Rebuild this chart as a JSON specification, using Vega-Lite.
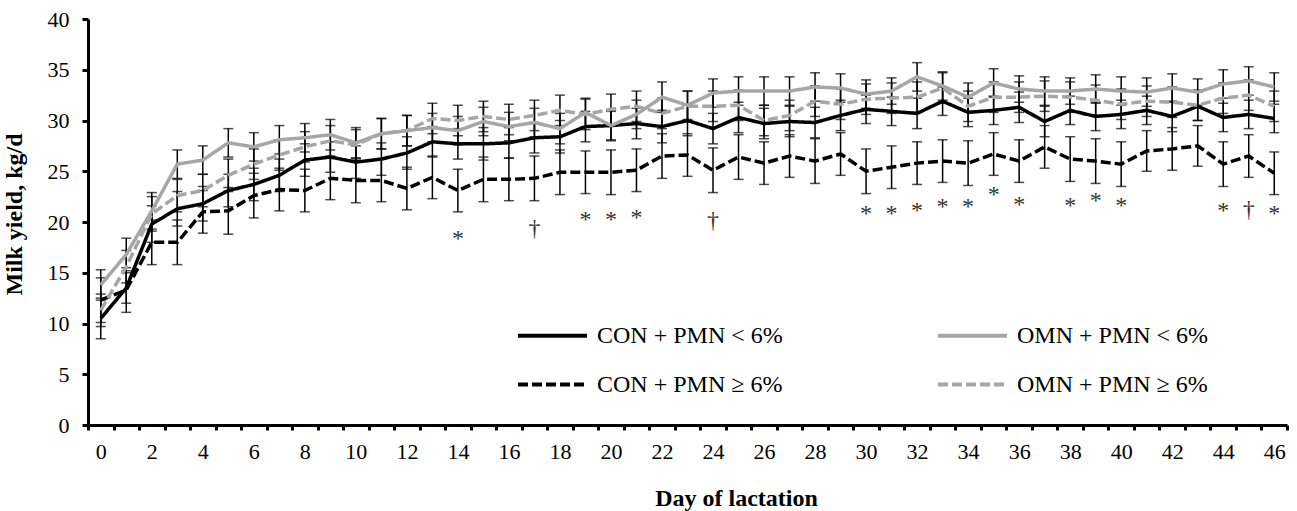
{
  "$schema": "https://vega.github.io/schema/vega-lite/v6.json",
  "width": 1199,
  "height": 406,
  "autosize": {"type": "none"},
  "padding": {"left": 88, "top": 19, "right": 10, "bottom": 86},
  "background": "white",
  "config": {
    "font": "Liberation Serif",
    "view": {"stroke": null},
    "axis": {"grid": false, "labelColor": "black", "titleColor": "black", "domainColor": "black", "tickColor": "black", "labelFont": "Liberation Serif", "titleFont": "Liberation Serif"}
  },
  "resolve": {"axis": {"x": "independent"}},
  "datasets": {
    "milk": [
      {"d":0,"s":"CON + PMN < 6%","y":10.5,"e":2.0},{"d":1,"s":"CON + PMN < 6%","y":13.5,"e":1.5},{"d":2,"s":"CON + PMN < 6%","y":19.8,"e":1.8},{"d":3,"s":"CON + PMN < 6%","y":21.3,"e":1.7},{"d":4,"s":"CON + PMN < 6%","y":21.8,"e":1.7},{"d":5,"s":"CON + PMN < 6%","y":23.1,"e":1.6},{"d":6,"s":"CON + PMN < 6%","y":23.7,"e":1.6},{"d":7,"s":"CON + PMN < 6%","y":24.6,"e":1.6},{"d":8,"s":"CON + PMN < 6%","y":26.1,"e":1.6},{"d":9,"s":"CON + PMN < 6%","y":26.4,"e":1.5},{"d":10,"s":"CON + PMN < 6%","y":25.9,"e":1.6},{"d":11,"s":"CON + PMN < 6%","y":26.2,"e":1.6},{"d":12,"s":"CON + PMN < 6%","y":26.8,"e":1.6},{"d":13,"s":"CON + PMN < 6%","y":27.9,"e":1.5},{"d":14,"s":"CON + PMN < 6%","y":27.7,"e":1.5},{"d":15,"s":"CON + PMN < 6%","y":27.7,"e":1.6},{"d":16,"s":"CON + PMN < 6%","y":27.8,"e":1.5},{"d":17,"s":"CON + PMN < 6%","y":28.3,"e":1.5},{"d":18,"s":"CON + PMN < 6%","y":28.4,"e":1.6},{"d":19,"s":"CON + PMN < 6%","y":29.4,"e":1.5},{"d":20,"s":"CON + PMN < 6%","y":29.5,"e":1.5},{"d":21,"s":"CON + PMN < 6%","y":29.7,"e":1.5},{"d":22,"s":"CON + PMN < 6%","y":29.4,"e":1.6},{"d":23,"s":"CON + PMN < 6%","y":30.0,"e":1.5},{"d":24,"s":"CON + PMN < 6%","y":29.2,"e":1.5},{"d":25,"s":"CON + PMN < 6%","y":30.3,"e":1.5},{"d":26,"s":"CON + PMN < 6%","y":29.7,"e":1.5},{"d":27,"s":"CON + PMN < 6%","y":29.9,"e":1.5},{"d":28,"s":"CON + PMN < 6%","y":29.8,"e":1.5},{"d":29,"s":"CON + PMN < 6%","y":30.5,"e":1.5},{"d":30,"s":"CON + PMN < 6%","y":31.1,"e":1.4},{"d":31,"s":"CON + PMN < 6%","y":30.9,"e":1.4},{"d":32,"s":"CON + PMN < 6%","y":30.7,"e":1.5},{"d":33,"s":"CON + PMN < 6%","y":31.9,"e":1.4},{"d":34,"s":"CON + PMN < 6%","y":30.8,"e":1.4},{"d":35,"s":"CON + PMN < 6%","y":31.0,"e":1.4},{"d":36,"s":"CON + PMN < 6%","y":31.3,"e":1.5},{"d":37,"s":"CON + PMN < 6%","y":29.9,"e":1.5},{"d":38,"s":"CON + PMN < 6%","y":31.0,"e":1.4},{"d":39,"s":"CON + PMN < 6%","y":30.4,"e":1.4},{"d":40,"s":"CON + PMN < 6%","y":30.6,"e":1.4},{"d":41,"s":"CON + PMN < 6%","y":31.0,"e":1.4},{"d":42,"s":"CON + PMN < 6%","y":30.4,"e":1.5},{"d":43,"s":"CON + PMN < 6%","y":31.4,"e":1.4},{"d":44,"s":"CON + PMN < 6%","y":30.3,"e":1.4},{"d":45,"s":"CON + PMN < 6%","y":30.6,"e":1.4},{"d":46,"s":"CON + PMN < 6%","y":30.2,"e":1.4},
      {"d":0,"s":"OMN + PMN < 6%","y":13.8,"e":1.5},{"d":1,"s":"OMN + PMN < 6%","y":16.8,"e":1.6},{"d":2,"s":"OMN + PMN < 6%","y":21.1,"e":1.8},{"d":3,"s":"OMN + PMN < 6%","y":25.7,"e":1.4},{"d":4,"s":"OMN + PMN < 6%","y":26.1,"e":1.4},{"d":5,"s":"OMN + PMN < 6%","y":27.8,"e":1.4},{"d":6,"s":"OMN + PMN < 6%","y":27.4,"e":1.4},{"d":7,"s":"OMN + PMN < 6%","y":28.1,"e":1.4},{"d":8,"s":"OMN + PMN < 6%","y":28.3,"e":1.4},{"d":9,"s":"OMN + PMN < 6%","y":28.6,"e":1.5},{"d":10,"s":"OMN + PMN < 6%","y":27.8,"e":1.5},{"d":11,"s":"OMN + PMN < 6%","y":28.7,"e":1.5},{"d":12,"s":"OMN + PMN < 6%","y":29.0,"e":1.5},{"d":13,"s":"OMN + PMN < 6%","y":29.3,"e":1.4},{"d":14,"s":"OMN + PMN < 6%","y":29.0,"e":1.4},{"d":15,"s":"OMN + PMN < 6%","y":29.9,"e":1.4},{"d":16,"s":"OMN + PMN < 6%","y":29.4,"e":1.4},{"d":17,"s":"OMN + PMN < 6%","y":29.8,"e":1.4},{"d":18,"s":"OMN + PMN < 6%","y":29.2,"e":1.5},{"d":19,"s":"OMN + PMN < 6%","y":30.8,"e":1.4},{"d":20,"s":"OMN + PMN < 6%","y":29.5,"e":1.4},{"d":21,"s":"OMN + PMN < 6%","y":30.6,"e":1.4},{"d":22,"s":"OMN + PMN < 6%","y":32.3,"e":1.5},{"d":23,"s":"OMN + PMN < 6%","y":31.5,"e":1.4},{"d":24,"s":"OMN + PMN < 6%","y":32.7,"e":1.4},{"d":25,"s":"OMN + PMN < 6%","y":32.9,"e":1.4},{"d":26,"s":"OMN + PMN < 6%","y":32.9,"e":1.4},{"d":27,"s":"OMN + PMN < 6%","y":32.9,"e":1.4},{"d":28,"s":"OMN + PMN < 6%","y":33.3,"e":1.4},{"d":29,"s":"OMN + PMN < 6%","y":33.2,"e":1.4},{"d":30,"s":"OMN + PMN < 6%","y":32.6,"e":1.4},{"d":31,"s":"OMN + PMN < 6%","y":32.9,"e":1.3},{"d":32,"s":"OMN + PMN < 6%","y":34.3,"e":1.4},{"d":33,"s":"OMN + PMN < 6%","y":33.4,"e":1.4},{"d":34,"s":"OMN + PMN < 6%","y":32.3,"e":1.4},{"d":35,"s":"OMN + PMN < 6%","y":33.7,"e":1.4},{"d":36,"s":"OMN + PMN < 6%","y":33.1,"e":1.3},{"d":37,"s":"OMN + PMN < 6%","y":32.9,"e":1.4},{"d":38,"s":"OMN + PMN < 6%","y":32.9,"e":1.3},{"d":39,"s":"OMN + PMN < 6%","y":33.1,"e":1.4},{"d":40,"s":"OMN + PMN < 6%","y":32.9,"e":1.4},{"d":41,"s":"OMN + PMN < 6%","y":32.8,"e":1.4},{"d":42,"s":"OMN + PMN < 6%","y":33.2,"e":1.4},{"d":43,"s":"OMN + PMN < 6%","y":32.8,"e":1.3},{"d":44,"s":"OMN + PMN < 6%","y":33.6,"e":1.4},{"d":45,"s":"OMN + PMN < 6%","y":33.9,"e":1.4},{"d":46,"s":"OMN + PMN < 6%","y":33.3,"e":1.4},
      {"d":0,"s":"CON + PMN ≥ 6%","y":12.3,"e":2.2},{"d":1,"s":"CON + PMN ≥ 6%","y":13.3,"e":2.2},{"d":2,"s":"CON + PMN ≥ 6%","y":18.0,"e":2.2},{"d":3,"s":"CON + PMN ≥ 6%","y":18.0,"e":2.2},{"d":4,"s":"CON + PMN ≥ 6%","y":21.0,"e":2.1},{"d":5,"s":"CON + PMN ≥ 6%","y":21.1,"e":2.3},{"d":6,"s":"CON + PMN ≥ 6%","y":22.6,"e":2.2},{"d":7,"s":"CON + PMN ≥ 6%","y":23.2,"e":2.1},{"d":8,"s":"CON + PMN ≥ 6%","y":23.1,"e":2.1},{"d":9,"s":"CON + PMN ≥ 6%","y":24.3,"e":2.1},{"d":10,"s":"CON + PMN ≥ 6%","y":24.1,"e":2.2},{"d":11,"s":"CON + PMN ≥ 6%","y":24.1,"e":2.1},{"d":12,"s":"CON + PMN ≥ 6%","y":23.3,"e":2.1},{"d":13,"s":"CON + PMN ≥ 6%","y":24.4,"e":2.1},{"d":14,"s":"CON + PMN ≥ 6%","y":23.1,"e":2.1},{"d":15,"s":"CON + PMN ≥ 6%","y":24.2,"e":2.2},{"d":16,"s":"CON + PMN ≥ 6%","y":24.2,"e":2.1},{"d":17,"s":"CON + PMN ≥ 6%","y":24.3,"e":2.2},{"d":18,"s":"CON + PMN ≥ 6%","y":24.9,"e":2.2},{"d":19,"s":"CON + PMN ≥ 6%","y":24.9,"e":2.1},{"d":20,"s":"CON + PMN ≥ 6%","y":24.9,"e":2.2},{"d":21,"s":"CON + PMN ≥ 6%","y":25.1,"e":2.1},{"d":22,"s":"CON + PMN ≥ 6%","y":26.5,"e":2.2},{"d":23,"s":"CON + PMN ≥ 6%","y":26.6,"e":2.1},{"d":24,"s":"CON + PMN ≥ 6%","y":25.1,"e":2.2},{"d":25,"s":"CON + PMN ≥ 6%","y":26.4,"e":2.2},{"d":26,"s":"CON + PMN ≥ 6%","y":25.8,"e":2.1},{"d":27,"s":"CON + PMN ≥ 6%","y":26.5,"e":2.1},{"d":28,"s":"CON + PMN ≥ 6%","y":26.0,"e":2.2},{"d":29,"s":"CON + PMN ≥ 6%","y":26.7,"e":2.1},{"d":30,"s":"CON + PMN ≥ 6%","y":25.0,"e":2.2},{"d":31,"s":"CON + PMN ≥ 6%","y":25.4,"e":2.1},{"d":32,"s":"CON + PMN ≥ 6%","y":25.8,"e":2.1},{"d":33,"s":"CON + PMN ≥ 6%","y":26.0,"e":2.1},{"d":34,"s":"CON + PMN ≥ 6%","y":25.8,"e":2.2},{"d":35,"s":"CON + PMN ≥ 6%","y":26.7,"e":2.1},{"d":36,"s":"CON + PMN ≥ 6%","y":26.0,"e":2.1},{"d":37,"s":"CON + PMN ≥ 6%","y":27.4,"e":2.1},{"d":38,"s":"CON + PMN ≥ 6%","y":26.2,"e":2.2},{"d":39,"s":"CON + PMN ≥ 6%","y":26.0,"e":2.2},{"d":40,"s":"CON + PMN ≥ 6%","y":25.7,"e":2.2},{"d":41,"s":"CON + PMN ≥ 6%","y":27.0,"e":2.0},{"d":42,"s":"CON + PMN ≥ 6%","y":27.2,"e":2.1},{"d":43,"s":"CON + PMN ≥ 6%","y":27.5,"e":2.0},{"d":44,"s":"CON + PMN ≥ 6%","y":25.7,"e":2.2},{"d":45,"s":"CON + PMN ≥ 6%","y":26.5,"e":2.1},{"d":46,"s":"CON + PMN ≥ 6%","y":24.8,"e":2.1},
      {"d":0,"s":"OMN + PMN ≥ 6%","y":11.3,"e":1.6},{"d":1,"s":"OMN + PMN ≥ 6%","y":15.6,"e":1.6},{"d":2,"s":"OMN + PMN ≥ 6%","y":20.8,"e":1.7},{"d":3,"s":"OMN + PMN ≥ 6%","y":22.6,"e":1.6},{"d":4,"s":"OMN + PMN ≥ 6%","y":23.1,"e":1.6},{"d":5,"s":"OMN + PMN ≥ 6%","y":24.6,"e":1.6},{"d":6,"s":"OMN + PMN ≥ 6%","y":25.7,"e":1.5},{"d":7,"s":"OMN + PMN ≥ 6%","y":26.6,"e":1.5},{"d":8,"s":"OMN + PMN ≥ 6%","y":27.4,"e":1.5},{"d":9,"s":"OMN + PMN ≥ 6%","y":28.0,"e":1.5},{"d":10,"s":"OMN + PMN ≥ 6%","y":27.6,"e":1.5},{"d":11,"s":"OMN + PMN ≥ 6%","y":28.7,"e":1.5},{"d":12,"s":"OMN + PMN ≥ 6%","y":29.0,"e":1.5},{"d":13,"s":"OMN + PMN ≥ 6%","y":30.2,"e":1.5},{"d":14,"s":"OMN + PMN ≥ 6%","y":30.0,"e":1.5},{"d":15,"s":"OMN + PMN ≥ 6%","y":30.4,"e":1.5},{"d":16,"s":"OMN + PMN ≥ 6%","y":30.1,"e":1.5},{"d":17,"s":"OMN + PMN ≥ 6%","y":30.5,"e":1.5},{"d":18,"s":"OMN + PMN ≥ 6%","y":31.0,"e":1.5},{"d":19,"s":"OMN + PMN ≥ 6%","y":30.6,"e":1.5},{"d":20,"s":"OMN + PMN ≥ 6%","y":31.1,"e":1.5},{"d":21,"s":"OMN + PMN ≥ 6%","y":31.4,"e":1.5},{"d":22,"s":"OMN + PMN ≥ 6%","y":30.7,"e":1.5},{"d":23,"s":"OMN + PMN ≥ 6%","y":31.4,"e":1.5},{"d":24,"s":"OMN + PMN ≥ 6%","y":31.4,"e":1.5},{"d":25,"s":"OMN + PMN ≥ 6%","y":31.5,"e":1.5},{"d":26,"s":"OMN + PMN ≥ 6%","y":30.0,"e":1.5},{"d":27,"s":"OMN + PMN ≥ 6%","y":30.5,"e":1.5},{"d":28,"s":"OMN + PMN ≥ 6%","y":31.9,"e":1.5},{"d":29,"s":"OMN + PMN ≥ 6%","y":31.6,"e":1.5},{"d":30,"s":"OMN + PMN ≥ 6%","y":32.1,"e":1.5},{"d":31,"s":"OMN + PMN ≥ 6%","y":32.2,"e":1.5},{"d":32,"s":"OMN + PMN ≥ 6%","y":32.3,"e":1.5},{"d":33,"s":"OMN + PMN ≥ 6%","y":33.2,"e":1.5},{"d":34,"s":"OMN + PMN ≥ 6%","y":31.4,"e":1.5},{"d":35,"s":"OMN + PMN ≥ 6%","y":32.3,"e":1.5},{"d":36,"s":"OMN + PMN ≥ 6%","y":32.3,"e":1.5},{"d":37,"s":"OMN + PMN ≥ 6%","y":32.4,"e":1.5},{"d":38,"s":"OMN + PMN ≥ 6%","y":32.3,"e":1.5},{"d":39,"s":"OMN + PMN ≥ 6%","y":32.0,"e":1.5},{"d":40,"s":"OMN + PMN ≥ 6%","y":31.6,"e":1.5},{"d":41,"s":"OMN + PMN ≥ 6%","y":31.9,"e":1.5},{"d":42,"s":"OMN + PMN ≥ 6%","y":31.8,"e":1.5},{"d":43,"s":"OMN + PMN ≥ 6%","y":31.5,"e":1.5},{"d":44,"s":"OMN + PMN ≥ 6%","y":32.2,"e":1.5},{"d":45,"s":"OMN + PMN ≥ 6%","y":32.5,"e":1.5},{"d":46,"s":"OMN + PMN ≥ 6%","y":31.4,"e":1.5}
    ],
    "sig": [
      {"d":14,"m":"*","y":18.3},{"d":17,"m":"†","y":19.3},{"d":19,"m":"*","y":20.2},{"d":20,"m":"*","y":20.2},{"d":21,"m":"*","y":20.4},{"d":24,"m":"†","y":20.1},{"d":30,"m":"*","y":20.8},{"d":31,"m":"*","y":20.8},{"d":32,"m":"*","y":21.1},{"d":33,"m":"*","y":21.5},{"d":34,"m":"*","y":21.5},{"d":35,"m":"*","y":22.7},{"d":36,"m":"*","y":21.7},{"d":38,"m":"*","y":21.6},{"d":39,"m":"*","y":22.1},{"d":40,"m":"*","y":21.6},{"d":44,"m":"*","y":21.1},{"d":45,"m":"†","y":21.2},{"d":46,"m":"*","y":20.8}
    ]
  },
  "layer": [
    {
      "data": {"name": "milk"},
      "mark": {"type": "errorbar", "color": "black", "ticks": {"size": 10, "thickness": 1.5, "color": "black"}, "rule": {"strokeWidth": 1.5, "color": "black"}},
      "encoding": {
        "x": {
          "field": "d", "type": "quantitative", "title": null,
          "scale": {"domain": [-0.5, 46.5], "nice": false, "zero": false},
          "axis": {
            "orient": "bottom", "labels": false,
            "values": [-0.5, 0.5, 1.5, 2.5, 3.5, 4.5, 5.5, 6.5, 7.5, 8.5, 9.5, 10.5, 11.5, 12.5, 13.5, 14.5, 15.5, 16.5, 17.5, 18.5, 19.5, 20.5, 21.5, 22.5, 23.5, 24.5, 25.5, 26.5, 27.5, 28.5, 29.5, 30.5, 31.5, 32.5, 33.5, 34.5, 35.5, 36.5, 37.5, 38.5, 39.5, 40.5, 41.5, 42.5, 43.5, 44.5, 45.5, 46.5],
            "tickSize": 5, "tickWidth": 3, "domainWidth": 3
          }
        },
        "y": {"field": "y", "type": "quantitative", "title": "Milk yield, kg/d", "scale": {"domain": [0, 40], "nice": false}},
        "yError": {"field": "e"},
        "detail": {"field": "s"}
      }
    },
    {
      "data": {"name": "milk"},
      "mark": {"type": "line", "strokeWidth": 3.5},
      "encoding": {
        "x": {
          "field": "d", "type": "quantitative", "title": "Day of lactation",
          "scale": {"domain": [-0.5, 46.5], "nice": false, "zero": false},
          "axis": {
            "orient": "bottom", "ticks": false, "domain": false,
            "values": [0, 2, 4, 6, 8, 10, 12, 14, 16, 18, 20, 22, 24, 26, 28, 30, 32, 34, 36, 38, 40, 42, 44, 46],
            "labelFlush": false, "labelOverlap": false,
            "labelFontSize": 22, "labelPadding": 16,
            "titleFontSize": 24, "titleFontWeight": "bold",
            "titleX": 648, "titleY": 80, "titleBaseline": "alphabetic", "titleAlign": "center"
          }
        },
        "y": {
          "field": "y", "type": "quantitative", "title": "Milk yield, kg/d",
          "scale": {"domain": [0, 40], "nice": false},
          "axis": {
            "values": [0, 5, 10, 15, 20, 25, 30, 35, 40],
            "labelFontSize": 22, "labelPadding": 13,
            "tickSize": 6, "tickWidth": 3, "domainWidth": 3,
            "titleFontSize": 24, "titleFontWeight": "bold",
            "titleX": -62, "titleY": 195
          }
        },
        "color": {
          "field": "s", "type": "nominal",
          "scale": {"domain": ["CON + PMN < 6%", "CON + PMN ≥ 6%", "OMN + PMN < 6%", "OMN + PMN ≥ 6%"], "range": ["black", "black", "#a6a6a6", "#a6a6a6"]},
          "legend": {
            "orient": "none", "legendX": 428, "legendY": 280, "columns": 2, "title": null,
            "symbolType": "stroke", "symbolSize": 4761, "symbolStrokeWidth": 4,
            "labelFontSize": 24, "labelFont": "Liberation Serif", "labelColor": "black", "labelOffset": 8,
            "columnPadding": 147, "rowPadding": -22, "padding": 0, "labelLimit": 400
          }
        },
        "strokeDash": {
          "field": "s", "type": "nominal",
          "scale": {"domain": ["CON + PMN < 6%", "CON + PMN ≥ 6%", "OMN + PMN < 6%", "OMN + PMN ≥ 6%"], "range": [[1, 0], [10, 4], [1, 0], [10, 4]]},
          "legend": {
            "orient": "none", "legendX": 428, "legendY": 280, "columns": 2, "title": null,
            "symbolType": "stroke", "symbolSize": 4761, "symbolStrokeWidth": 4,
            "labelFontSize": 24, "labelFont": "Liberation Serif", "labelColor": "black", "labelOffset": 8,
            "columnPadding": 147, "rowPadding": -22, "padding": 0, "labelLimit": 400
          }
        }
      }
    },
    {
      "data": {"name": "sig"},
      "mark": {"type": "text", "fontSize": 24, "font": "Liberation Serif", "color": "#333333", "baseline": "middle", "align": "center"},
      "encoding": {
        "x": {"field": "d", "type": "quantitative", "axis": null, "scale": {"domain": [-0.5, 46.5], "nice": false, "zero": false}},
        "y": {"field": "y", "type": "quantitative", "title": "Milk yield, kg/d", "scale": {"domain": [0, 40], "nice": false}},
        "text": {"field": "m"}
      }
    }
  ]
}
